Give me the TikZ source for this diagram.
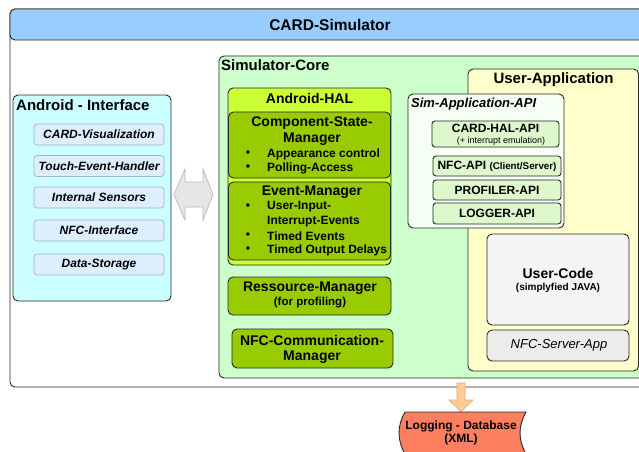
\documentclass[tikz,border=0pt]{standalone}
\usepackage{fontspec}
\setmainfont{Liberation Sans}
\usetikzlibrary{fit}
\definecolor{hdrblue}{RGB}{153,204,255}
\definecolor{coregreen}{RGB}{204,255,204}
\definecolor{aicyan}{RGB}{204,255,255}
\definecolor{aiitem}{RGB}{221,238,255}
\definecolor{aiitemline}{RGB}{165,180,195}
\definecolor{halyellow}{RGB}{204,255,51}
\definecolor{halgreen}{RGB}{153,204,0}
\definecolor{uacream}{RGB}{255,255,204}
\definecolor{apibg}{RGB}{246,255,243}
\definecolor{apibox}{RGB}{221,248,205}
\definecolor{codegray}{RGB}{244,244,244}
\definecolor{servergray}{RGB}{236,236,236}
\definecolor{arrowgray}{RGB}{230,230,230}
\definecolor{arrowline}{RGB}{185,185,185}
\definecolor{orangefill}{RGB}{255,204,153}
\definecolor{orangeline}{RGB}{225,170,115}
\definecolor{logred}{RGB}{255,128,96}
\definecolor{linedark}{RGB}{40,40,40}
\newcommand\fsz[1]{\fontsize{#1}{#1}\selectfont}
\tikzset{
  box/.style={draw=linedark, line width=0.9pt, rounded corners=5pt, inner sep=0pt},
  aiitembox/.style={draw=aiitemline, line width=0.7pt, fill=aiitem, rounded corners=3pt,
    minimum width=130pt, minimum height=21pt, inner sep=0pt, font=\bfseries\itshape\fsz{12}},
  txt/.style={inner sep=0pt},
  hdr/.style={txt, font=\bfseries\fsz{15}},
  sub/.style={txt, font=\bfseries\fsz{14}},
  item/.style={txt, anchor=west, font=\bfseries\fsz{12}},
  dot/.style={txt, font=\bfseries\fsz{12}},
}
\begin{document}
\begin{tikzpicture}[x=1pt,y=-1pt]
\clip (0,0) rectangle (639,451);
\fill[white] (0,0) rectangle (639,451);

% outer CARD-Simulator
\node[box, fill=white, fit={(10,9) (700,387)}] (outer) {};
\node[box, fill=hdrblue, fit={(10,9) (700,40)}] (header) {};
\node[txt, font=\bfseries\fsz{15.5}] (title) at (330,25) {CARD-Simulator};

% Android - Interface
\node[box, fill=aicyan, fit={(13,95) (171,301)}] (ai) {};
\node[hdr, anchor=west] (aititle) at (16,105) {Android - Interface};
\node[aiitembox] (cardvis) at (99,134.5) {CARD-Visualization};
\node[aiitembox] (touch) at (99,166) {Touch-Event-Handler};
\node[aiitembox] (sensors) at (99,197.5) {Internal Sensors};
\node[aiitembox] (nfcif) at (99,230.5) {NFC-Interface};
\node[aiitembox] (storage) at (99,264.5) {Data-Storage};

% Simulator-Core
\node[box, fill=coregreen, fit={(219,56) (700,378)}] (core) {};
\node[hdr, anchor=west] (coretitle) at (221,65.5) {Simulator-Core};

% double arrow between interface and core
\draw[draw=arrowline, fill=arrowgray, line width=0.7pt]
  (174,194.5) -- (185,169) -- (185,182) -- (203,182) -- (203,169) -- (213,194.5)
  -- (203,220) -- (203,207) -- (185,207) -- (185,220) -- cycle;

% Android-HAL
\node[box, fill=halyellow, fit={(228,88) (391,265)}] (hal) {};
\node[sub] (haltitle) at (309.5,98) {Android-HAL};
\node[box, fill=halgreen, fit={(228.5,112) (390.5,178)}] (csm) {};
\node[sub] (csm1) at (312,123) {Component-State-};
\node[sub] (csm2) at (312,139) {Manager};
\node[dot] (csmb1) at (248,154) {\textbullet};
\node[item] (csmi1) at (267,154) {Appearance control};
\node[dot] (csmb2) at (248,168) {\textbullet};
\node[item] (csmi2) at (267,168) {Polling-Access};
\node[box, fill=halgreen, fit={(228.5,182) (390.5,260)}] (evm) {};
\node[sub] (evm1) at (312,192) {Event-Manager};
\node[dot] (evmb1) at (248,207) {\textbullet};
\node[item] (evmi1) at (267,207) {User-Input-};
\node[item] (evmi1b) at (267,221.5) {Interrupt-Events};
\node[dot] (evmb2) at (248,236) {\textbullet};
\node[item] (evmi2) at (267,236) {Timed Events};
\node[dot] (evmb3) at (248,250) {\textbullet};
\node[item] (evmi3) at (267,250) {Timed Output Delays};

% Ressource-Manager
\node[box, fill=halgreen, fit={(228,277) (391,315)}] (res) {};
\node[sub] (res1) at (310,288) {Ressource-Manager};
\node[txt, font=\bfseries\fsz{11.5}] (res2) at (310,303) {(for profiling)};

% NFC-Communication-Manager
\node[box, fill=halgreen, fit={(232,329) (393,368)}] (nfccm) {};
\node[sub] (nfccm1) at (312,340) {NFC-Communication-};
\node[sub] (nfccm2) at (312,357) {Manager};

% User-Application
\node[box, fill=uacream, fit={(468,69) (638.5,371)}] (ua) {};
\node[hdr] (uatitle) at (553.5,80) {User-Application};

% Sim-Application-API
\node[box, fill=apibg, fit={(408,94) (564,228)}] (simapi) {};
\node[txt, anchor=west, font=\bfseries\itshape\fsz{13}] (simapititle) at (411,104) {Sim-Application-API};
\node[box, fill=apibox, rounded corners=3pt, fit={(432,121) (559,147)}] (cardhal) {};
\node[txt, font=\bfseries\fsz{12}] (cardhal1) at (495.5,128) {CARD-HAL-API};
\node[txt, font=\fsz{9}] (cardhal2) at (501,141) {(+ interrupt emulation)};
\node[box, fill=apibox, rounded corners=3pt, fit={(433,156) (561,176)}] (nfcapi) {};
\node[txt, font=\bfseries\fsz{12}] (nfcapi1) at (497,166) {NFC-API {\fsz{9.8}(Client/Server)}};
\node[box, fill=apibox, rounded corners=3pt, fit={(433,180) (561,200)}] (prof) {};
\node[txt, font=\bfseries\fsz{12}] (prof1) at (497,190) {PROFILER-API};
\node[box, fill=apibox, rounded corners=3pt, fit={(433,203) (561,224)}] (logger) {};
\node[txt, font=\bfseries\fsz{12}] (logger1) at (497,213.5) {LOGGER-API};

% User-Code
\node[box, fill=codegray, fit={(487,234) (629,325)}] (ucode) {};
\node[sub] (ucode1) at (558,273) {User-Code};
\node[txt, font=\bfseries\fsz{10}] (ucode2) at (558,288) {(simplyfied JAVA)};

% NFC-Server-App
\node[box, fill=servergray, fit={(487,330) (629,361)}] (nfcserver) {};
\node[txt, font=\itshape\fsz{13}] (nfcserver1) at (559,345.5) {NFC-Server-App};

% orange arrow to logging database
\draw[draw=orangeline, fill=orangefill, line width=0.7pt]
  (457,383) -- (465,383) -- (465,400) -- (473,400) -- (461,411.5) -- (449,400) -- (457,400) -- cycle;

% Logging - Database
\draw[draw=linedark, line width=0.9pt, fill=logred]
  (405,412) -- (526,412) .. controls (518,426) and (518,440) .. (526,454)
  -- (405,454) .. controls (397,440) and (397,426) .. (405,412) -- cycle;
\node[txt, font=\bfseries\fsz{12}, align=center] (logdb) at (461,432.5)
  {Logging - Database\\[1pt](XML)};
\end{tikzpicture}
\end{document}
